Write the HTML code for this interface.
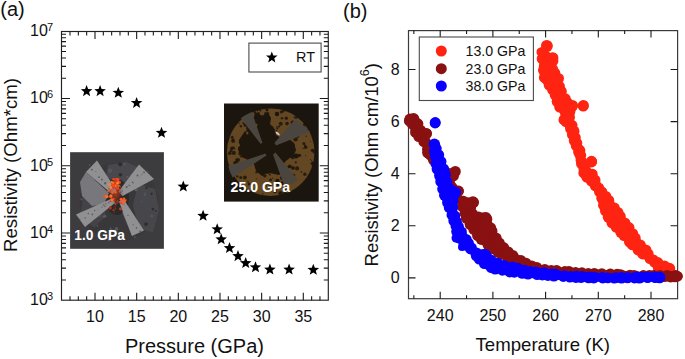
<!DOCTYPE html>
<html><head><meta charset="utf-8"><style>html,body{margin:0;padding:0;background:#fff;width:685px;height:359px;overflow:hidden}svg{display:block}</style></head>
<body><svg width="685" height="359" viewBox="0 0 685 359">
<defs><radialGradient id="rg1" cx="0.5" cy="0.5" r="0.5"><stop offset="0" stop-color="#ff5a1a"/><stop offset="0.5" stop-color="#c8321a" stop-opacity="0.85"/><stop offset="1" stop-color="#2e2a2c" stop-opacity="0"/></radialGradient><filter id="bl1" x="-20%" y="-20%" width="140%" height="140%"><feGaussianBlur stdDeviation="0.6"/></filter></defs>
<rect x="70.1" y="152.2" width="93.8" height="96.6" fill="#3c3b3e"/>
<g filter="url(#bl1)">
<circle cx="118.8" cy="202.2" r="40" fill="#38373b" stroke="#433a3d" stroke-width="1.2"/>
<polygon points="108.0,165.0 126.0,162.0 142.0,169.0 138.0,181.0 120.0,183.0 106.0,177.0" fill="#48484d" />
<polygon points="138.0,184.0 155.0,189.0 159.0,210.0 153.0,232.0 139.0,229.0 133.0,205.0" fill="#47474c" />
<polygon points="84.0,194.0 100.0,198.0 106.0,216.0 94.0,228.0 80.0,214.0" fill="#424246" />
<circle cx="93.9" cy="177.9" r="1.9" fill="#55565c"/>
<circle cx="137.8" cy="172.4" r="1.1" fill="#55565c"/>
<circle cx="136.1" cy="189.7" r="1.5" fill="#5a5a60"/>
<circle cx="103.4" cy="216.5" r="1.1" fill="#5a5a60"/>
<circle cx="99.4" cy="214.9" r="2.0" fill="#4e5058"/>
<circle cx="138.0" cy="232.3" r="1.0" fill="#4e5058"/>
<circle cx="131.4" cy="215.0" r="2.0" fill="#5a5a60"/>
<circle cx="124.5" cy="164.3" r="1.0" fill="#5a5a60"/>
<circle cx="109.4" cy="239.4" r="1.6" fill="#5a5a60"/>
<circle cx="134.8" cy="237.2" r="1.1" fill="#4e5058"/>
<circle cx="110.5" cy="228.4" r="1.0" fill="#5a5a60"/>
<circle cx="116.5" cy="228.9" r="1.9" fill="#55565c"/>
<circle cx="90.6" cy="182.8" r="0.9" fill="#2e2e31"/>
<circle cx="131.3" cy="175.0" r="1.2" fill="#4e5058"/>
<circle cx="96.1" cy="206.2" r="1.2" fill="#55565c"/>
<circle cx="144.8" cy="193.6" r="1.4" fill="#4e5058"/>
<circle cx="97.6" cy="225.9" r="0.8" fill="#55565c"/>
<circle cx="110.2" cy="170.7" r="2.1" fill="#55565c"/>
<circle cx="120.2" cy="164.3" r="2.1" fill="#2e2e31"/>
<circle cx="81.6" cy="199.3" r="1.2" fill="#4e5058"/>
<circle cx="146.0" cy="224.1" r="1.9" fill="#2e2e31"/>
<circle cx="155.9" cy="210.9" r="0.9" fill="#2e2e31"/>
<circle cx="91.4" cy="200.0" r="1.0" fill="#2e2e31"/>
<circle cx="146.5" cy="187.9" r="1.2" fill="#2e2e31"/>
<circle cx="106.4" cy="235.8" r="1.7" fill="#2e2e31"/>
<circle cx="141.5" cy="201.7" r="0.9" fill="#4e5058"/>
<circle cx="152.9" cy="209.1" r="1.3" fill="#2e2e31"/>
<circle cx="91.2" cy="210.1" r="0.9" fill="#55565c"/>
<circle cx="127.4" cy="176.8" r="1.1" fill="#5a5a60"/>
<circle cx="94.5" cy="176.2" r="0.9" fill="#4e5058"/>
<circle cx="105.0" cy="216.3" r="1.4" fill="#5a5a60"/>
<circle cx="81.5" cy="213.5" r="2.0" fill="#4e5058"/>
<circle cx="151.6" cy="193.8" r="1.2" fill="#2e2e31"/>
<circle cx="111.6" cy="229.6" r="1.0" fill="#4e5058"/>
<circle cx="132.3" cy="174.4" r="1.1" fill="#4e5058"/>
<circle cx="134.4" cy="185.1" r="1.5" fill="#2e2e31"/>
<circle cx="151.7" cy="216.0" r="1.3" fill="#55565c"/>
<circle cx="120.5" cy="174.8" r="1.8" fill="#2e2e31"/>
<circle cx="131.7" cy="180.5" r="2.2" fill="#2e2e31"/>
<circle cx="144.8" cy="195.0" r="1.1" fill="#55565c"/>
<ellipse cx="117" cy="197" rx="12" ry="18" fill="#2b2a2c"/>
<polygon points="80.0,182.0 86.0,172.0 109.0,193.0 104.0,204.0 92.0,206.0 82.0,196.0" fill="#78787b" />
<polygon points="122.0,212.0 133.0,214.0 141.0,227.0 132.0,236.0" fill="#6c6c6e" />
<polygon points="86.0,172.0 97.0,160.5 116.5,190.5 112.5,194.5" fill="#909092" />
<polygon points="139.0,164.5 154.0,179.0 122.5,196.0 118.5,191.5" fill="#909092" />
<polygon points="76.0,214.5 85.0,227.0 115.5,202.5 112.0,198.5" fill="#909092" />
<polygon points="119.0,201.5 123.5,199.0 144.0,230.5 132.0,236.0" fill="#909092" />
<circle cx="128.0" cy="215.4" r="0.7" fill="#5a5a5c"/>
<circle cx="92.4" cy="214.3" r="0.9" fill="#5a5a5c"/>
<circle cx="110.5" cy="201.3" r="0.7" fill="#5a5a5c"/>
<circle cx="111.8" cy="200.4" r="0.5" fill="#5a5a5c"/>
<circle cx="111.1" cy="200.9" r="0.8" fill="#5a5a5c"/>
<circle cx="136.5" cy="227.9" r="0.8" fill="#5a5a5c"/>
<circle cx="133.1" cy="224.6" r="0.6" fill="#5a5a5c"/>
<circle cx="95.8" cy="171.5" r="0.5" fill="#5a5a5c"/>
<circle cx="128.5" cy="185.1" r="0.5" fill="#5a5a5c"/>
<circle cx="109.1" cy="188.6" r="0.7" fill="#5a5a5c"/>
<circle cx="99.3" cy="177.0" r="0.4" fill="#5a5a5c"/>
<circle cx="141.9" cy="174.6" r="0.6" fill="#5a5a5c"/>
<circle cx="108.8" cy="202.7" r="0.7" fill="#5a5a5c"/>
<circle cx="102.0" cy="179.2" r="0.7" fill="#5a5a5c"/>
<circle cx="111.9" cy="200.4" r="0.9" fill="#5a5a5c"/>
<circle cx="94.7" cy="210.5" r="0.7" fill="#5a5a5c"/>
<circle cx="120.4" cy="192.3" r="0.9" fill="#5a5a5c"/>
<circle cx="98.5" cy="177.1" r="0.7" fill="#5a5a5c"/>
<circle cx="102.0" cy="207.1" r="0.7" fill="#5a5a5c"/>
<circle cx="133.1" cy="182.9" r="0.6" fill="#5a5a5c"/>
<circle cx="129.8" cy="185.6" r="0.7" fill="#5a5a5c"/>
<circle cx="140.3" cy="231.4" r="1.0" fill="#5a5a5c"/>
<circle cx="132.4" cy="182.3" r="0.7" fill="#5a5a5c"/>
<circle cx="79.7" cy="219.3" r="0.7" fill="#5a5a5c"/>
<circle cx="88.3" cy="213.5" r="0.7" fill="#5a5a5c"/>
<circle cx="126.7" cy="187.1" r="1.0" fill="#5a5a5c"/>
<circle cx="89.6" cy="165.1" r="0.8" fill="#5a5a5c"/>
<circle cx="103.6" cy="205.0" r="0.8" fill="#5a5a5c"/>
<circle cx="144.1" cy="172.3" r="0.9" fill="#5a5a5c"/>
<circle cx="147.8" cy="171.7" r="0.7" fill="#5a5a5c"/>
<circle cx="123.7" cy="204.5" r="0.8" fill="#5a5a5c"/>
<circle cx="122.2" cy="191.0" r="0.6" fill="#5a5a5c"/>
<circle cx="105.3" cy="183.0" r="0.9" fill="#5a5a5c"/>
<circle cx="85.1" cy="218.0" r="0.7" fill="#5a5a5c"/>
<circle cx="97.9" cy="209.5" r="0.4" fill="#5a5a5c"/>
<circle cx="137.5" cy="175.5" r="1.0" fill="#5a5a5c"/>
<circle cx="104.9" cy="206.2" r="0.8" fill="#5a5a5c"/>
<circle cx="92.0" cy="169.7" r="0.9" fill="#5a5a5c"/>
<circle cx="105.1" cy="183.5" r="1.0" fill="#5a5a5c"/>
<circle cx="140.0" cy="177.2" r="0.4" fill="#5a5a5c"/>
<circle cx="143.1" cy="172.0" r="0.4" fill="#5a5a5c"/>
<circle cx="101.9" cy="180.0" r="0.8" fill="#5a5a5c"/>
<circle cx="99.5" cy="177.1" r="0.7" fill="#5a5a5c"/>
<circle cx="110.2" cy="201.2" r="0.7" fill="#5a5a5c"/>
<circle cx="110.3" cy="201.5" r="0.6" fill="#5a5a5c"/>
<ellipse cx="115.5" cy="192" rx="8" ry="13" fill="url(#rg1)" opacity="0.55"/>
<circle cx="111.9" cy="200.0" r="1.7" fill="#ff7028"/>
<circle cx="117.5" cy="202.7" r="0.8" fill="#c03a1c"/>
<circle cx="123.1" cy="199.9" r="0.7" fill="#e84a1c"/>
<circle cx="113.0" cy="182.6" r="1.1" fill="#d8381a"/>
<circle cx="115.2" cy="183.2" r="0.7" fill="#d8381a"/>
<circle cx="119.6" cy="182.4" r="1.4" fill="#f04a1c"/>
<circle cx="118.2" cy="181.8" r="0.8" fill="#f04a1c"/>
<circle cx="110.7" cy="196.7" r="1.6" fill="#e0401a"/>
<circle cx="124.0" cy="198.8" r="1.3" fill="#ff5a20"/>
<circle cx="108.8" cy="209.2" r="0.6" fill="#8a2418"/>
<circle cx="115.5" cy="208.5" r="0.7" fill="#a8301a"/>
<circle cx="115.3" cy="184.9" r="1.3" fill="#d8381a"/>
<circle cx="112.6" cy="185.3" r="1.0" fill="#d8381a"/>
<circle cx="113.6" cy="199.1" r="1.0" fill="#f05a20"/>
<circle cx="116.3" cy="182.6" r="0.7" fill="#ff8030"/>
<circle cx="115.0" cy="200.0" r="1.1" fill="#a8301a"/>
<circle cx="117.7" cy="182.5" r="1.4" fill="#ff6a24"/>
<circle cx="104.9" cy="196.3" r="1.5" fill="#f05a20"/>
<circle cx="112.7" cy="184.7" r="0.6" fill="#f04a1c"/>
<circle cx="121.2" cy="199.3" r="1.6" fill="#ff5a20"/>
<circle cx="123.0" cy="199.5" r="0.9" fill="#ff5a20"/>
<circle cx="123.3" cy="199.4" r="0.8" fill="#e84a1c"/>
<circle cx="119.2" cy="185.3" r="0.6" fill="#ff8030"/>
<circle cx="115.6" cy="180.5" r="0.6" fill="#ff6a24"/>
<circle cx="117.4" cy="201.6" r="1.4" fill="#a8301a"/>
<circle cx="115.5" cy="182.5" r="0.7" fill="#d8381a"/>
<circle cx="118.1" cy="185.1" r="0.7" fill="#ff6a24"/>
<circle cx="110.3" cy="207.9" r="1.6" fill="#a8301a"/>
<circle cx="113.5" cy="179.3" r="1.2" fill="#f04a1c"/>
<circle cx="114.4" cy="185.5" r="1.3" fill="#f04a1c"/>
<circle cx="115.1" cy="206.7" r="1.0" fill="#8a2418"/>
<circle cx="115.4" cy="179.8" r="1.4" fill="#f04a1c"/>
<circle cx="113.6" cy="210.1" r="1.2" fill="#a8301a"/>
<circle cx="109.5" cy="184.6" r="1.5" fill="#ff8030"/>
<circle cx="115.9" cy="185.1" r="1.4" fill="#f04a1c"/>
<circle cx="126.1" cy="200.0" r="0.7" fill="#ff5a20"/>
<circle cx="124.6" cy="200.9" r="1.6" fill="#ff5a20"/>
<circle cx="120.4" cy="209.0" r="1.4" fill="#c03a1c"/>
<circle cx="115.5" cy="192.3" r="1.2" fill="#f05a20"/>
<circle cx="116.9" cy="179.3" r="1.4" fill="#ff6a24"/>
<circle cx="123.1" cy="203.8" r="1.2" fill="#ff5a20"/>
<circle cx="114.4" cy="185.8" r="1.3" fill="#d8381a"/>
<circle cx="120.0" cy="186.3" r="0.6" fill="#ff6a24"/>
<circle cx="117.1" cy="186.4" r="1.6" fill="#ff8030"/>
<circle cx="112.4" cy="198.2" r="0.8" fill="#e0401a"/>
<circle cx="117.3" cy="188.2" r="1.4" fill="#f04a1c"/>
<circle cx="113.1" cy="183.6" r="1.1" fill="#f04a1c"/>
<circle cx="115.5" cy="204.1" r="1.1" fill="#c03a1c"/>
<circle cx="113.4" cy="182.8" r="1.4" fill="#ff6a24"/>
<circle cx="105.9" cy="203.8" r="0.6" fill="#8a2418"/>
<circle cx="117.9" cy="179.7" r="1.7" fill="#f04a1c"/>
<circle cx="111.8" cy="182.1" r="1.0" fill="#ff8030"/>
<circle cx="114.6" cy="186.3" r="1.4" fill="#ff8030"/>
<circle cx="121.3" cy="202.9" r="1.3" fill="#e84a1c"/>
<circle cx="118.8" cy="189.2" r="1.0" fill="#d8381a"/>
<circle cx="110.7" cy="187.5" r="1.6" fill="#ff8030"/>
<circle cx="115.8" cy="181.0" r="1.5" fill="#d8381a"/>
<circle cx="112.9" cy="192.2" r="0.7" fill="#f05a20"/>
<circle cx="108.0" cy="191.2" r="0.9" fill="#f05a20"/>
<circle cx="113.8" cy="187.2" r="1.2" fill="#d8381a"/>
<circle cx="107.0" cy="196.6" r="1.6" fill="#ff7028"/>
<circle cx="110.2" cy="191.7" r="1.0" fill="#e0401a"/>
<circle cx="110.4" cy="191.7" r="0.9" fill="#e0401a"/>
<circle cx="115.7" cy="179.2" r="0.9" fill="#d8381a"/>
<circle cx="114.1" cy="212.3" r="0.6" fill="#a8301a"/>
<circle cx="117.6" cy="183.3" r="1.4" fill="#ff8030"/>
<circle cx="114.7" cy="200.5" r="1.1" fill="#a8301a"/>
<circle cx="117.1" cy="186.2" r="1.0" fill="#d8381a"/>
<circle cx="113.5" cy="185.4" r="1.6" fill="#f04a1c"/>
<circle cx="110.9" cy="195.9" r="1.6" fill="#ff7028"/>
</g>
<text x="74.3" y="240.4" font-family="Liberation Sans" font-size="15" font-weight="bold" fill="#fff" textLength="50.5" lengthAdjust="spacingAndGlyphs">1.0 GPa</text>
<rect x="224" y="103.5" width="94.7" height="98.1" fill="#1b1510"/>
<g filter="url(#bl1)">
<circle cx="270.7" cy="152.3" r="43.8" fill="#634722"/>
<polygon points="255.0,113.0 262.0,111.5 268.0,113.0 271.0,118.0 270.0,124.0 274.0,128.0 276.0,135.0 281.0,138.0 289.0,139.0 294.0,143.0 296.0,150.0 293.0,157.0 287.0,160.0 284.0,163.0 285.0,170.0 279.0,175.0 270.0,173.0 262.0,176.0 256.0,171.0 254.0,164.0 248.0,160.0 242.0,157.0 238.0,150.0 239.0,140.0 243.0,134.0 247.0,130.0 252.0,127.0 253.0,120.0" fill="#1c140d" />
<circle cx="262" cy="113" r="2.5" fill="#634722"/>
<circle cx="284" cy="137" r="2.5" fill="#634722"/>
<circle cx="291" cy="160" r="2.5" fill="#634722"/>
<circle cx="250" cy="163" r="2.2" fill="#634722"/>
<circle cx="238" cy="145" r="2" fill="#634722"/>
<circle cx="266" cy="176" r="2.5" fill="#634722"/>
<circle cx="274" cy="122" r="2" fill="#634722"/>
<circle cx="256" cy="125" r="1.6" fill="#634722"/>
<circle cx="247" cy="133" r="1.5" fill="#634722"/>
<circle cx="236.4" cy="162.9" r="2.1" fill="#1c140d" opacity="0.8"/>
<circle cx="236.7" cy="159.8" r="1.5" fill="#1c140d" opacity="0.8"/>
<circle cx="284.6" cy="184.3" r="1.6" fill="#1c140d" opacity="0.8"/>
<circle cx="277.3" cy="128.4" r="1.0" fill="#1c140d" opacity="0.8"/>
<circle cx="304.8" cy="174.2" r="1.7" fill="#1c140d" opacity="0.8"/>
<circle cx="312.7" cy="163.6" r="2.1" fill="#1c140d" opacity="0.8"/>
<circle cx="249.7" cy="121.9" r="0.8" fill="#1c140d" opacity="0.8"/>
<circle cx="305.8" cy="155.6" r="0.6" fill="#1c140d" opacity="0.8"/>
<circle cx="281.3" cy="179.1" r="0.6" fill="#1c140d" opacity="0.8"/>
<circle cx="238.2" cy="159.8" r="1.9" fill="#1c140d" opacity="0.8"/>
<circle cx="233.5" cy="147.8" r="1.3" fill="#1c140d" opacity="0.8"/>
<circle cx="253.1" cy="123.5" r="1.0" fill="#1c140d" opacity="0.8"/>
<circle cx="314.4" cy="151.7" r="1.9" fill="#1c140d" opacity="0.8"/>
<circle cx="262.7" cy="122.8" r="0.9" fill="#1c140d" opacity="0.8"/>
<circle cx="264.8" cy="175.7" r="1.8" fill="#1c140d" opacity="0.8"/>
<circle cx="237.3" cy="176.4" r="1.2" fill="#1c140d" opacity="0.8"/>
<circle cx="310.5" cy="141.6" r="0.5" fill="#1c140d" opacity="0.8"/>
<circle cx="281.3" cy="193.3" r="1.3" fill="#1c140d" opacity="0.8"/>
<circle cx="302.9" cy="148.3" r="0.6" fill="#1c140d" opacity="0.8"/>
<circle cx="243.2" cy="123.2" r="1.0" fill="#1c140d" opacity="0.8"/>
<circle cx="297.1" cy="168.4" r="2.1" fill="#1c140d" opacity="0.8"/>
<circle cx="272.0" cy="126.8" r="0.9" fill="#1c140d" opacity="0.8"/>
<circle cx="289.9" cy="166.4" r="1.9" fill="#1c140d" opacity="0.8"/>
<circle cx="286.4" cy="184.5" r="1.3" fill="#1c140d" opacity="0.8"/>
<circle cx="285.0" cy="188.8" r="0.7" fill="#1c140d" opacity="0.8"/>
<circle cx="254.9" cy="132.3" r="1.2" fill="#1c140d" opacity="0.8"/>
<circle cx="277.5" cy="181.0" r="2.2" fill="#1c140d" opacity="0.8"/>
<circle cx="280.7" cy="123.7" r="2.0" fill="#1c140d" opacity="0.8"/>
<circle cx="278.6" cy="183.7" r="2.0" fill="#1c140d" opacity="0.8"/>
<circle cx="255.0" cy="132.9" r="2.2" fill="#1c140d" opacity="0.8"/>
<circle cx="277.4" cy="180.7" r="1.8" fill="#1c140d" opacity="0.8"/>
<circle cx="256.4" cy="178.8" r="0.6" fill="#1c140d" opacity="0.8"/>
<circle cx="301.3" cy="171.8" r="0.9" fill="#1c140d" opacity="0.8"/>
<circle cx="245.1" cy="133.4" r="1.3" fill="#1c140d" opacity="0.8"/>
<circle cx="303.9" cy="143.6" r="1.5" fill="#1c140d" opacity="0.8"/>
<circle cx="288.9" cy="132.0" r="0.8" fill="#1c140d" opacity="0.8"/>
<circle cx="304.8" cy="130.2" r="0.9" fill="#1c140d" opacity="0.8"/>
<circle cx="285.2" cy="188.8" r="2.1" fill="#1c140d" opacity="0.8"/>
<circle cx="284.9" cy="192.9" r="2.0" fill="#1c140d" opacity="0.8"/>
<circle cx="244.5" cy="132.3" r="0.7" fill="#1c140d" opacity="0.8"/>
<circle cx="312.6" cy="162.7" r="0.9" fill="#1c140d" opacity="0.8"/>
<circle cx="262.5" cy="124.3" r="1.9" fill="#1c140d" opacity="0.8"/>
<circle cx="246.0" cy="135.2" r="0.8" fill="#1c140d" opacity="0.8"/>
<circle cx="266.2" cy="128.7" r="0.9" fill="#1c140d" opacity="0.8"/>
<circle cx="232.2" cy="137.2" r="1.5" fill="#1c140d" opacity="0.8"/>
<circle cx="262.7" cy="194.0" r="0.8" fill="#1c140d" opacity="0.8"/>
<circle cx="300.0" cy="155.4" r="1.3" fill="#1c140d" opacity="0.8"/>
<circle cx="295.8" cy="162.3" r="1.1" fill="#1c140d" opacity="0.8"/>
<circle cx="247.5" cy="141.0" r="1.1" fill="#1c140d" opacity="0.8"/>
<circle cx="304.4" cy="124.8" r="1.6" fill="#1c140d" opacity="0.8"/>
<circle cx="257.6" cy="118.4" r="0.7" fill="#1c140d" opacity="0.8"/>
<circle cx="292.6" cy="157.2" r="2.0" fill="#1c140d" opacity="0.8"/>
<circle cx="257.6" cy="111.1" r="0.5" fill="#1c140d" opacity="0.8"/>
<circle cx="248.2" cy="126.4" r="1.7" fill="#1c140d" opacity="0.8"/>
<circle cx="252.3" cy="192.0" r="0.6" fill="#1c140d" opacity="0.8"/>
<circle cx="233.1" cy="141.1" r="2.0" fill="#1c140d" opacity="0.8"/>
<circle cx="267.6" cy="113.8" r="1.8" fill="#1c140d" opacity="0.8"/>
<circle cx="297.7" cy="136.3" r="1.7" fill="#1c140d" opacity="0.8"/>
<circle cx="304.5" cy="128.0" r="1.2" fill="#1c140d" opacity="0.8"/>
<circle cx="281.2" cy="112.1" r="1.5" fill="#1c140d" opacity="0.8"/>
<circle cx="248.0" cy="129.6" r="1.5" fill="#1c140d" opacity="0.8"/>
<circle cx="251.8" cy="136.9" r="1.6" fill="#1c140d" opacity="0.8"/>
<circle cx="312.4" cy="150.5" r="1.7" fill="#1c140d" opacity="0.8"/>
<circle cx="240.7" cy="177.6" r="1.5" fill="#1c140d" opacity="0.8"/>
<circle cx="232.5" cy="167.3" r="0.6" fill="#1c140d" opacity="0.8"/>
<circle cx="270.7" cy="129.4" r="1.5" fill="#1c140d" opacity="0.8"/>
<circle cx="242.4" cy="155.7" r="1.7" fill="#1c140d" opacity="0.8"/>
<circle cx="233.8" cy="152.9" r="2.1" fill="#1c140d" opacity="0.8"/>
<circle cx="269.9" cy="174.6" r="1.0" fill="#1c140d" opacity="0.8"/>
<circle cx="258.6" cy="127.3" r="0.8" fill="#1c140d" opacity="0.8"/>
<circle cx="302.1" cy="131.2" r="1.3" fill="#1c140d" opacity="0.8"/>
<circle cx="294.7" cy="132.9" r="1.6" fill="#1c140d" opacity="0.8"/>
<circle cx="281.2" cy="183.7" r="1.9" fill="#1c140d" opacity="0.8"/>
<circle cx="306.6" cy="130.9" r="1.2" fill="#1c140d" opacity="0.8"/>
<circle cx="244.2" cy="137.0" r="0.7" fill="#1c140d" opacity="0.8"/>
<circle cx="229.7" cy="153.2" r="1.9" fill="#1c140d" opacity="0.8"/>
<circle cx="260.3" cy="110.6" r="1.0" fill="#1c140d" opacity="0.8"/>
<circle cx="287.0" cy="181.6" r="1.0" fill="#1c140d" opacity="0.8"/>
<circle cx="278.0" cy="184.3" r="1.6" fill="#1c140d" opacity="0.8"/>
<circle cx="240.2" cy="153.5" r="1.9" fill="#1c140d" opacity="0.8"/>
<circle cx="304.1" cy="148.5" r="0.6" fill="#1c140d" opacity="0.8"/>
<circle cx="311.5" cy="160.5" r="0.6" fill="#1c140d" opacity="0.8"/>
<circle cx="261.4" cy="117.4" r="1.0" fill="#1c140d" opacity="0.8"/>
<circle cx="276.5" cy="130.5" r="0.7" fill="#1c140d" opacity="0.8"/>
<circle cx="248.9" cy="158.7" r="1.9" fill="#1c140d" opacity="0.8"/>
<circle cx="272.8" cy="178.3" r="0.6" fill="#1c140d" opacity="0.8"/>
<circle cx="247.6" cy="128.0" r="1.6" fill="#1c140d" opacity="0.8"/>
<circle cx="247.9" cy="118.8" r="2.1" fill="#1c140d" opacity="0.8"/>
<circle cx="259.6" cy="126.9" r="1.3" fill="#1c140d" opacity="0.8"/>
<circle cx="280.3" cy="172.4" r="1.3" fill="#1c140d" opacity="0.8"/>
<circle cx="264.6" cy="125.8" r="1.0" fill="#1c140d" opacity="0.8"/>
<circle cx="248.9" cy="184.0" r="1.4" fill="#1c140d" opacity="0.8"/>
<circle cx="240.9" cy="126.2" r="1.2" fill="#1c140d" opacity="0.8"/>
<circle cx="281.7" cy="111.5" r="0.6" fill="#1c140d" opacity="0.8"/>
<circle cx="306.2" cy="136.3" r="0.7" fill="#1c140d" opacity="0.8"/>
<circle cx="235.1" cy="163.0" r="2.0" fill="#1c140d" opacity="0.8"/>
<circle cx="244.9" cy="177.5" r="2.0" fill="#1c140d" opacity="0.8"/>
<circle cx="283.1" cy="111.3" r="1.3" fill="#1c140d" opacity="0.8"/>
<circle cx="254.5" cy="129.7" r="1.7" fill="#1c140d" opacity="0.8"/>
<circle cx="286.3" cy="118.2" r="1.7" fill="#1c140d" opacity="0.8"/>
<circle cx="280.3" cy="193.3" r="2.2" fill="#1c140d" opacity="0.8"/>
<circle cx="305.7" cy="147.3" r="1.8" fill="#1c140d" opacity="0.8"/>
<circle cx="252.6" cy="190.5" r="2.0" fill="#1c140d" opacity="0.8"/>
<circle cx="256.5" cy="172.2" r="1.2" fill="#1c140d" opacity="0.8"/>
<circle cx="232.9" cy="139.9" r="1.3" fill="#1c140d" opacity="0.8"/>
<circle cx="310.6" cy="159.5" r="0.6" fill="#1c140d" opacity="0.8"/>
<circle cx="279.0" cy="126.6" r="1.1" fill="#1c140d" opacity="0.8"/>
<circle cx="276.9" cy="126.9" r="0.8" fill="#1c140d" opacity="0.8"/>
<circle cx="231.9" cy="148.3" r="1.9" fill="#1c140d" opacity="0.8"/>
<circle cx="254.8" cy="112.5" r="1.3" fill="#1c140d" opacity="0.8"/>
<circle cx="294.0" cy="144.6" r="0.9" fill="#1c140d" opacity="0.8"/>
<circle cx="241.2" cy="147.3" r="1.7" fill="#1c140d" opacity="0.8"/>
<circle cx="248.1" cy="125.4" r="1.9" fill="#1c140d" opacity="0.8"/>
<circle cx="242.4" cy="141.1" r="1.1" fill="#1c140d" opacity="0.8"/>
<circle cx="294.4" cy="117.5" r="0.9" fill="#1c140d" opacity="0.8"/>
<circle cx="296.3" cy="117.4" r="1.4" fill="#1c140d" opacity="0.8"/>
<circle cx="245.8" cy="140.0" r="1.4" fill="#1c140d" opacity="0.8"/>
<circle cx="234.0" cy="151.6" r="0.5" fill="#1c140d" opacity="0.8"/>
<circle cx="305.0" cy="145.6" r="1.2" fill="#1c140d" opacity="0.8"/>
<circle cx="282.0" cy="118.2" r="1.3" fill="#1c140d" opacity="0.8"/>
<circle cx="262.0" cy="130.0" r="1.4" fill="#1c140d" opacity="0.8"/>
<circle cx="233.8" cy="174.5" r="2.1" fill="#1c140d" opacity="0.8"/>
<circle cx="266.6" cy="186.1" r="0.7" fill="#1c140d" opacity="0.8"/>
<circle cx="233.5" cy="168.8" r="2.0" fill="#1c140d" opacity="0.8"/>
<circle cx="240.4" cy="156.8" r="0.8" fill="#1c140d" opacity="0.8"/>
<circle cx="239.3" cy="123.6" r="0.7" fill="#1c140d" opacity="0.8"/>
<circle cx="274.8" cy="130.0" r="0.8" fill="#1c140d" opacity="0.8"/>
<circle cx="276.2" cy="190.2" r="1.0" fill="#1c140d" opacity="0.8"/>
<circle cx="247.9" cy="181.5" r="0.7" fill="#1c140d" opacity="0.8"/>
<circle cx="267.6" cy="126.9" r="1.4" fill="#1c140d" opacity="0.8"/>
<circle cx="270.6" cy="179.9" r="1.4" fill="#1c140d" opacity="0.8"/>
<circle cx="241.2" cy="164.7" r="1.2" fill="#1c140d" opacity="0.8"/>
<circle cx="244.5" cy="147.4" r="0.8" fill="#1c140d" opacity="0.8"/>
<circle cx="245.3" cy="124.8" r="1.4" fill="#1c140d" opacity="0.8"/>
<circle cx="292.6" cy="122.6" r="2.0" fill="#1c140d" opacity="0.8"/>
<circle cx="275.0" cy="191.4" r="1.9" fill="#1c140d" opacity="0.8"/>
<circle cx="295.7" cy="134.8" r="1.0" fill="#1c140d" opacity="0.8"/>
<circle cx="295.6" cy="139.2" r="2.2" fill="#1c140d" opacity="0.8"/>
<circle cx="290.4" cy="135.5" r="0.9" fill="#1c140d" opacity="0.8"/>
<circle cx="266.4" cy="123.4" r="0.7" fill="#1c140d" opacity="0.8"/>
<circle cx="287.0" cy="123.6" r="1.8" fill="#1c140d" opacity="0.8"/>
<circle cx="293.6" cy="175.5" r="1.7" fill="#1c140d" opacity="0.8"/>
<circle cx="298.3" cy="155.4" r="1.7" fill="#1c140d" opacity="0.8"/>
<circle cx="307.4" cy="129.4" r="0.7" fill="#1c140d" opacity="0.8"/>
<circle cx="231.1" cy="150.9" r="1.4" fill="#1c140d" opacity="0.8"/>
<circle cx="259.9" cy="127.1" r="0.6" fill="#1c140d" opacity="0.8"/>
<circle cx="288.8" cy="166.6" r="1.4" fill="#1c140d" opacity="0.8"/>
<circle cx="234.8" cy="148.9" r="0.7" fill="#1c140d" opacity="0.8"/>
<circle cx="281.8" cy="177.8" r="1.9" fill="#1c140d" opacity="0.8"/>
<circle cx="313.2" cy="149.7" r="0.7" fill="#1c140d" opacity="0.8"/>
<circle cx="277" cy="114" r="2.2" fill="#1c140d"/>
<circle cx="267" cy="110" r="1.4" fill="#1c140d"/>
<circle cx="245" cy="125" r="1.5" fill="#1c140d"/>
<circle cx="298" cy="116" r="1.5" fill="#1c140d"/>
<circle cx="296" cy="156" r="2.5" fill="#1c140d"/>
<circle cx="293" cy="168" r="1.8" fill="#1c140d"/>
<circle cx="283" cy="183" r="2" fill="#1c140d"/>
<circle cx="270" cy="186" r="1.6" fill="#1c140d"/>
<polygon points="240.7,118.3 246.0,114.8 251.9,112.1 262.5,143.0 260.5,143.8" fill="#4b453f" />
<polygon points="295.7,118.8 303.0,125.0 310.1,131.9 276.0,145.5 274.5,142.8" fill="#4b453f" />
<polygon points="228.3,166.0 230.0,172.0 232.7,177.5 266.5,155.5 265.5,153.5" fill="#4b453f" />
<polygon points="273.0,154.5 275.5,152.5 298.0,180.0 292.0,184.0 284.0,185.0" fill="#4b453f" />
<ellipse cx="277.7" cy="133.6" rx="2.5" ry="1" transform="rotate(40 277.7 133.6)" fill="#d0d0d0"/>
</g>
<text x="230.6" y="192.4" font-family="Liberation Sans" font-size="15" font-weight="bold" fill="#fff" textLength="59.5" lengthAdjust="spacingAndGlyphs">25.0 GPa</text>
<rect x="61.5" y="31.5" width="266.8" height="268.7" fill="none" stroke="#222" stroke-width="1.15"/>
<path d="M70.00 300.2v-4M70.00 31.5v4M78.34 300.2v-4M78.34 31.5v4M86.67 300.2v-4M86.67 31.5v4M95.00 300.2v-7.5M95.00 31.5v7.5M103.33 300.2v-4M103.33 31.5v4M111.66 300.2v-4M111.66 31.5v4M120.00 300.2v-4M120.00 31.5v4M128.33 300.2v-4M128.33 31.5v4M136.66 300.2v-7.5M136.66 31.5v7.5M144.99 300.2v-4M144.99 31.5v4M153.32 300.2v-4M153.32 31.5v4M161.66 300.2v-4M161.66 31.5v4M169.99 300.2v-4M169.99 31.5v4M178.32 300.2v-7.5M178.32 31.5v7.5M186.65 300.2v-4M186.65 31.5v4M194.98 300.2v-4M194.98 31.5v4M203.32 300.2v-4M203.32 31.5v4M211.65 300.2v-4M211.65 31.5v4M219.98 300.2v-7.5M219.98 31.5v7.5M228.31 300.2v-4M228.31 31.5v4M236.64 300.2v-4M236.64 31.5v4M244.98 300.2v-4M244.98 31.5v4M253.31 300.2v-4M253.31 31.5v4M261.64 300.2v-7.5M261.64 31.5v7.5M269.97 300.2v-4M269.97 31.5v4M278.30 300.2v-4M278.30 31.5v4M286.64 300.2v-4M286.64 31.5v4M294.97 300.2v-4M294.97 31.5v4M303.30 300.2v-7.5M303.30 31.5v7.5M311.63 300.2v-4M311.63 31.5v4M319.96 300.2v-4M319.96 31.5v4M61.5 279.96h4.5M328.3 279.96h-4.5M61.5 268.11h4.5M328.3 268.11h-4.5M61.5 259.71h4.5M328.3 259.71h-4.5M61.5 253.19h4.5M328.3 253.19h-4.5M61.5 247.87h4.5M328.3 247.87h-4.5M61.5 243.37h4.5M328.3 243.37h-4.5M61.5 239.47h4.5M328.3 239.47h-4.5M61.5 236.03h4.5M328.3 236.03h-4.5M61.5 232.95h8.5M328.3 232.95h-8.5M61.5 212.71h4.5M328.3 212.71h-4.5M61.5 200.86h4.5M328.3 200.86h-4.5M61.5 192.46h4.5M328.3 192.46h-4.5M61.5 185.94h4.5M328.3 185.94h-4.5M61.5 180.62h4.5M328.3 180.62h-4.5M61.5 176.12h4.5M328.3 176.12h-4.5M61.5 172.22h4.5M328.3 172.22h-4.5M61.5 168.78h4.5M328.3 168.78h-4.5M61.5 165.70h8.5M328.3 165.70h-8.5M61.5 145.46h4.5M328.3 145.46h-4.5M61.5 133.61h4.5M328.3 133.61h-4.5M61.5 125.21h4.5M328.3 125.21h-4.5M61.5 118.69h4.5M328.3 118.69h-4.5M61.5 113.37h4.5M328.3 113.37h-4.5M61.5 108.87h4.5M328.3 108.87h-4.5M61.5 104.97h4.5M328.3 104.97h-4.5M61.5 101.53h4.5M328.3 101.53h-4.5M61.5 98.45h8.5M328.3 98.45h-8.5M61.5 78.21h4.5M328.3 78.21h-4.5M61.5 66.36h4.5M328.3 66.36h-4.5M61.5 57.96h4.5M328.3 57.96h-4.5M61.5 51.44h4.5M328.3 51.44h-4.5M61.5 46.12h4.5M328.3 46.12h-4.5M61.5 41.62h4.5M328.3 41.62h-4.5M61.5 37.72h4.5M328.3 37.72h-4.5M61.5 34.28h4.5M328.3 34.28h-4.5" stroke="#1a1a1a" stroke-width="1.1" fill="none"/>
<text x="95.00" y="322.4" font-family="Liberation Sans" font-size="16" text-anchor="middle" fill="#111">10</text>
<text x="136.66" y="322.4" font-family="Liberation Sans" font-size="16" text-anchor="middle" fill="#111">15</text>
<text x="178.32" y="322.4" font-family="Liberation Sans" font-size="16" text-anchor="middle" fill="#111">20</text>
<text x="219.98" y="322.4" font-family="Liberation Sans" font-size="16" text-anchor="middle" fill="#111">25</text>
<text x="261.64" y="322.4" font-family="Liberation Sans" font-size="16" text-anchor="middle" fill="#111">30</text>
<text x="303.30" y="322.4" font-family="Liberation Sans" font-size="16" text-anchor="middle" fill="#111">35</text>
<text x="30" y="305.20" font-family="Liberation Sans" font-size="16" fill="#111">10</text>
<text x="47" y="300.20" font-family="Liberation Sans" font-size="11" fill="#111">3</text>
<text x="30" y="237.95" font-family="Liberation Sans" font-size="16" fill="#111">10</text>
<text x="47" y="232.95" font-family="Liberation Sans" font-size="11" fill="#111">4</text>
<text x="30" y="170.70" font-family="Liberation Sans" font-size="16" fill="#111">10</text>
<text x="47" y="165.70" font-family="Liberation Sans" font-size="11" fill="#111">5</text>
<text x="30" y="103.45" font-family="Liberation Sans" font-size="16" fill="#111">10</text>
<text x="47" y="98.45" font-family="Liberation Sans" font-size="11" fill="#111">6</text>
<text x="30" y="36.20" font-family="Liberation Sans" font-size="16" fill="#111">10</text>
<text x="47" y="31.20" font-family="Liberation Sans" font-size="11" fill="#111">7</text>
<text x="0.3" y="16" font-family="Liberation Sans" font-size="20" fill="#111">(a)</text>
<text x="125" y="352.8" font-family="Liberation Sans" font-size="20" fill="#111">Pressure (GPa)</text>
<text transform="translate(16.7,252) rotate(-90)" x="0" y="0" font-family="Liberation Sans" font-size="18.7" fill="#111" textLength="174" lengthAdjust="spacingAndGlyphs">Resistivity (Ohm*cm)</text>
<rect x="248.9" y="43.1" width="72.2" height="28.9" fill="#fff" stroke="#4a4a4a" stroke-width="1.1"/>
<polygon points="271.80,51.40 273.33,55.40 277.60,55.61 274.27,58.30 275.39,62.44 271.80,60.10 268.21,62.44 269.33,58.30 266.00,55.61 270.27,55.40" fill="#000"/>
<text x="296" y="62" font-family="Liberation Sans" font-size="14.4" fill="#111">RT</text>
<polygon points="86.60,85.10 88.13,89.10 92.40,89.31 89.07,92.00 90.19,96.14 86.60,93.80 83.01,96.14 84.13,92.00 80.80,89.31 85.07,89.10" fill="#000"/>
<polygon points="100.10,85.10 101.63,89.10 105.90,89.31 102.57,92.00 103.69,96.14 100.10,93.80 96.51,96.14 97.63,92.00 94.30,89.31 98.57,89.10" fill="#000"/>
<polygon points="118.30,86.70 119.83,90.70 124.10,90.91 120.77,93.60 121.89,97.74 118.30,95.40 114.71,97.74 115.83,93.60 112.50,90.91 116.77,90.70" fill="#000"/>
<polygon points="136.60,96.90 138.13,100.90 142.40,101.11 139.07,103.80 140.19,107.94 136.60,105.60 133.01,107.94 134.13,103.80 130.80,101.11 135.07,100.90" fill="#000"/>
<polygon points="161.50,126.80 163.03,130.80 167.30,131.01 163.97,133.70 165.09,137.84 161.50,135.50 157.91,137.84 159.03,133.70 155.70,131.01 159.97,130.80" fill="#000"/>
<polygon points="183.30,180.50 184.83,184.50 189.10,184.71 185.77,187.40 186.89,191.54 183.30,189.20 179.71,191.54 180.83,187.40 177.50,184.71 181.77,184.50" fill="#000"/>
<polygon points="203.10,209.80 204.63,213.80 208.90,214.01 205.57,216.70 206.69,220.84 203.10,218.50 199.51,220.84 200.63,216.70 197.30,214.01 201.57,213.80" fill="#000"/>
<polygon points="217.20,223.20 218.73,227.20 223.00,227.41 219.67,230.10 220.79,234.24 217.20,231.90 213.61,234.24 214.73,230.10 211.40,227.41 215.67,227.20" fill="#000"/>
<polygon points="221.20,233.30 222.73,237.30 227.00,237.51 223.67,240.20 224.79,244.34 221.20,242.00 217.61,244.34 218.73,240.20 215.40,237.51 219.67,237.30" fill="#000"/>
<polygon points="229.50,242.00 231.03,246.00 235.30,246.21 231.97,248.90 233.09,253.04 229.50,250.70 225.91,253.04 227.03,248.90 223.70,246.21 227.97,246.00" fill="#000"/>
<polygon points="238.00,250.10 239.53,254.10 243.80,254.31 240.47,257.00 241.59,261.14 238.00,258.80 234.41,261.14 235.53,257.00 232.20,254.31 236.47,254.10" fill="#000"/>
<polygon points="245.70,257.00 247.23,261.00 251.50,261.21 248.17,263.90 249.29,268.04 245.70,265.70 242.11,268.04 243.23,263.90 239.90,261.21 244.17,261.00" fill="#000"/>
<polygon points="255.50,261.20 257.03,265.20 261.30,265.41 257.97,268.10 259.09,272.24 255.50,269.90 251.91,272.24 253.03,268.10 249.70,265.41 253.97,265.20" fill="#000"/>
<polygon points="269.90,263.50 271.43,267.50 275.70,267.71 272.37,270.40 273.49,274.54 269.90,272.20 266.31,274.54 267.43,270.40 264.10,267.71 268.37,267.50" fill="#000"/>
<polygon points="289.10,263.50 290.63,267.50 294.90,267.71 291.57,270.40 292.69,274.54 289.10,272.20 285.51,274.54 286.63,270.40 283.30,267.71 287.57,267.50" fill="#000"/>
<polygon points="313.30,263.80 314.83,267.80 319.10,268.01 315.77,270.70 316.89,274.84 313.30,272.50 309.71,274.84 310.83,270.70 307.50,268.01 311.77,267.80" fill="#000"/>
<rect x="408.5" y="30.6" width="269.1" height="268.09999999999997" fill="none" stroke="#3a3a3a" stroke-width="1.2"/>
<path d="M413.85 298.7v-3.5M413.85 30.6v3.5M440.20 298.7v-7M440.20 30.6v7M466.55 298.7v-3.5M466.55 30.6v3.5M492.90 298.7v-7M492.90 30.6v7M519.25 298.7v-3.5M519.25 30.6v3.5M545.60 298.7v-7M545.60 30.6v7M571.95 298.7v-3.5M571.95 30.6v3.5M598.30 298.7v-7M598.30 30.6v7M624.65 298.7v-3.5M624.65 30.6v3.5M651.00 298.7v-7M651.00 30.6v7M408.5 277.90h7M677.6 277.90h-7M408.5 225.80h7M677.6 225.80h-7M408.5 173.70h7M677.6 173.70h-7M408.5 121.60h7M677.6 121.60h-7M408.5 69.50h7M677.6 69.50h-7" stroke="#1a1a1a" stroke-width="1.1" fill="none"/>
<text x="440.20" y="321.1" font-family="Liberation Sans" font-size="16" text-anchor="middle" fill="#111">240</text>
<text x="492.90" y="321.1" font-family="Liberation Sans" font-size="16" text-anchor="middle" fill="#111">250</text>
<text x="545.60" y="321.1" font-family="Liberation Sans" font-size="16" text-anchor="middle" fill="#111">260</text>
<text x="598.30" y="321.1" font-family="Liberation Sans" font-size="16" text-anchor="middle" fill="#111">270</text>
<text x="651.00" y="321.1" font-family="Liberation Sans" font-size="16" text-anchor="middle" fill="#111">280</text>
<text x="395.3" y="283.10" font-family="Liberation Sans" font-size="16" text-anchor="middle" fill="#111">0</text>
<text x="395.3" y="231.00" font-family="Liberation Sans" font-size="16" text-anchor="middle" fill="#111">2</text>
<text x="395.3" y="178.90" font-family="Liberation Sans" font-size="16" text-anchor="middle" fill="#111">4</text>
<text x="395.3" y="126.80" font-family="Liberation Sans" font-size="16" text-anchor="middle" fill="#111">6</text>
<text x="395.3" y="74.70" font-family="Liberation Sans" font-size="16" text-anchor="middle" fill="#111">8</text>
<text x="343" y="18" font-family="Liberation Sans" font-size="20" fill="#111">(b)</text>
<text x="475.5" y="351.3" font-family="Liberation Sans" font-size="18.5" fill="#111" textLength="134.5" lengthAdjust="spacingAndGlyphs">Temperature (K)</text>
<text transform="translate(377.9,266.4) rotate(-90)" x="0" y="0" font-family="Liberation Sans" font-size="18.5" fill="#111">Resistivity (Ohm cm/10<tspan font-size="12.5" dy="-8.5">6</tspan><tspan dy="8.5">)</tspan></text>
<path d="M537.7,52.0 537.7,52.3 537.8,52.5 537.8,52.8 537.9,53.1 538.0,53.3 538.1,53.5 538.2,53.6 538.2,53.8 538.3,53.9 538.3,54.1 538.7,59.8 540.3,66.3 540.4,66.5 540.4,66.6 540.4,66.8 540.4,67.0 539.6,73.4 541.1,81.2 545.1,85.9 545.2,86.0 550.1,92.6 550.2,92.8 550.3,92.9 550.4,93.1 552.8,99.7 555.3,106.3 556.8,109.3 561.6,114.1 561.7,114.2 561.8,114.4 561.9,114.5 562.0,114.7 562.1,114.9 562.1,115.1 562.1,115.2 562.1,115.4 562.1,115.6 562.1,115.8 562.0,116.0 562.0,116.1 561.9,116.3 561.8,116.4 561.7,116.6 561.5,116.7 561.4,116.8 561.1,117.1 560.8,117.3 560.6,117.6 560.3,117.9 560.1,118.2 560.0,118.5 559.9,118.9 559.8,119.3 559.7,119.6 559.7,120.0 559.7,120.4 559.8,120.7 559.9,121.1 560.0,121.5 560.1,121.8 560.3,122.1 560.6,122.4 560.8,122.7 561.1,122.9 561.4,123.2 561.7,123.4 562.1,123.5 562.1,123.5 562.1,123.5 562.2,123.6 562.4,123.7 562.5,123.8 562.7,123.9 562.8,124.0 562.9,124.2 567.6,130.9 567.7,131.1 567.8,131.3 567.9,131.5 570.3,139.7 572.8,146.4 575.3,153.1 575.4,153.2 577.1,159.8 577.1,160.0 577.9,166.5 579.5,172.9 583.4,179.3 590.8,185.8 591.0,185.9 591.1,186.0 596.0,192.6 596.1,192.8 596.2,192.9 596.3,193.1 598.7,199.6 598.8,199.9 600.4,206.5 602.0,212.9 603.2,214.0 603.3,214.1 603.4,214.3 603.5,214.4 603.6,214.6 603.7,214.7 606.1,221.1 610.9,227.6 617.5,234.2 617.6,234.3 623.5,240.9 630.1,247.6 636.8,254.2 644.1,259.1 644.2,259.2 653.7,266.6 653.8,266.8 654.0,266.9 654.1,267.0 654.2,267.2 654.2,267.4 654.3,267.5 655.9,272.8 669.6,272.8 674.9,269.1 673.1,265.9 666.5,262.6 666.4,262.6 655.1,256.6 654.9,256.5 654.8,256.4 654.7,256.3 654.5,256.2 654.4,256.1 648.0,246.9 642.8,242.7 642.7,242.6 642.5,242.4 642.4,242.3 638.3,235.7 638.3,235.7 634.1,229.0 634.1,229.0 630.1,222.5 626.1,219.3 626.0,219.2 625.9,219.1 625.8,218.9 625.7,218.7 623.3,214.1 619.1,207.5 613.4,200.9 613.3,200.8 613.3,200.7 609.2,194.2 602.6,187.6 602.5,187.5 602.4,187.3 602.3,187.2 602.2,187.0 599.8,180.6 596.7,174.2 596.3,174.0 596.2,173.8 596.1,173.7 596.0,173.6 595.9,173.4 595.8,173.3 595.7,173.1 595.6,172.9 595.6,172.9 595.5,172.5 595.4,172.2 595.2,171.9 594.9,171.6 594.7,171.3 594.4,171.1 594.1,170.8 593.8,170.6 593.5,170.5 593.1,170.4 592.7,170.3 592.4,170.2 592.0,170.2 591.9,170.2 591.7,170.2 591.5,170.2 591.3,170.2 591.2,170.1 591.0,170.0 590.9,170.0 590.7,169.9 589.1,168.7 589.0,168.6 588.8,168.5 588.7,168.3 588.6,168.2 588.6,168.0 588.5,167.9 588.4,167.7 588.4,167.5 588.4,167.3 588.4,167.2 588.4,167.0 588.4,166.8 588.5,166.7 588.5,166.5 588.6,166.3 588.7,166.2 588.8,166.0 589.0,165.9 589.1,165.8 589.2,165.7 589.4,165.6 589.6,165.6 589.7,165.5 589.9,165.5 590.1,165.5 590.3,165.5 590.4,165.5 590.6,165.5 590.7,165.5 591.1,165.6 591.5,165.6 591.9,165.6 592.3,165.5 592.7,165.4 593.1,165.3 593.5,165.1 593.9,164.9 594.2,164.6 594.5,164.3 594.8,164.0 595.1,163.7 595.3,163.3 595.5,162.9 595.6,162.5 595.7,162.1 595.8,161.7 595.8,161.3 595.8,160.9 595.7,160.5 595.6,160.1 595.5,159.7 595.3,159.3 595.1,158.9 594.8,158.6 594.5,158.3 594.2,158.0 593.9,157.7 593.5,157.5 593.1,157.3 592.7,157.2 592.3,157.1 591.9,157.0 591.5,157.0 591.1,157.0 590.7,157.1 590.3,157.2 589.9,157.3 589.5,157.5 589.1,157.7 588.8,158.0 588.5,158.3 588.2,158.6 587.9,158.9 587.8,159.1 587.7,159.2 587.6,159.4 587.5,159.5 587.3,159.6 587.2,159.7 587.0,159.8 586.9,159.9 586.7,159.9 586.5,160.0 586.3,160.0 586.2,160.0 586.0,159.9 585.8,159.9 585.6,159.9 585.5,159.8 585.3,159.7 585.2,159.6 585.0,159.5 584.9,159.4 584.8,159.2 584.7,159.1 584.6,158.9 584.6,158.7 584.5,158.6 584.5,158.4 583.9,153.6 583.9,153.6 583.1,147.2 579.9,140.7 579.8,140.6 579.7,140.4 579.7,140.3 578.0,132.0 575.6,123.8 574.1,120.6 574.0,120.4 573.9,120.2 573.9,120.1 573.1,113.8 573.1,113.6 573.1,113.4 573.1,113.3 573.2,113.1 573.2,112.9 574.4,109.8 574.5,109.6 574.6,109.5 574.6,109.3 574.8,109.2 574.9,109.1 575.0,109.0 575.2,108.8 575.5,108.5 575.8,108.2 576.1,107.9 576.2,107.7 576.3,107.6 576.4,107.4 576.5,107.3 576.6,107.2 576.8,107.1 576.9,107.0 577.1,107.0 577.3,106.9 577.5,106.9 577.6,106.9 577.8,106.9 578.0,106.9 578.2,106.9 578.3,107.0 578.5,107.0 578.6,107.1 578.8,107.2 578.9,107.3 579.0,107.4 579.2,107.6 579.3,107.7 579.3,107.9 579.4,108.0 579.6,108.4 579.9,108.7 580.2,109.0 580.5,109.3 580.8,109.6 581.2,109.8 581.6,110.0 582.0,110.1 582.4,110.2 582.8,110.3 583.2,110.3 583.6,110.3 584.0,110.2 584.4,110.1 584.8,110.0 585.2,109.8 585.6,109.6 585.9,109.3 586.2,109.0 586.5,108.7 586.8,108.4 587.0,108.0 587.2,107.6 587.3,107.2 587.4,106.8 587.5,106.4 587.5,106.0 587.5,105.6 587.4,105.2 587.3,104.8 587.2,104.4 587.0,104.0 586.8,103.6 586.5,103.3 586.2,103.0 585.9,102.7 585.6,102.4 585.2,102.2 584.8,102.0 584.4,101.9 584.0,101.8 583.6,101.7 583.2,101.7 582.8,101.7 582.4,101.8 582.0,101.9 581.6,102.0 581.2,102.2 580.8,102.4 580.5,102.7 580.2,103.0 579.9,103.3 579.6,103.6 579.5,103.8 579.4,103.9 579.3,104.1 579.2,104.2 579.1,104.3 578.9,104.4 578.8,104.5 578.6,104.5 578.4,104.6 578.2,104.6 578.1,104.6 577.9,104.6 577.7,104.6 577.5,104.6 577.4,104.5 577.2,104.5 577.1,104.4 576.9,104.3 576.8,104.2 576.7,104.1 576.5,103.9 576.4,103.8 576.4,103.6 576.3,103.5 576.1,103.1 575.8,102.8 575.5,102.5 575.2,102.2 574.9,101.9 574.5,101.7 574.1,101.5 573.7,101.4 573.3,101.3 572.9,101.2 572.5,101.2 572.2,101.2 572.0,101.2 571.8,101.2 571.7,101.2 571.5,101.1 571.3,101.1 571.2,101.0 571.0,100.9 570.9,100.8 570.8,100.7 570.7,100.5 570.6,100.4 566.6,94.1 566.5,93.9 566.5,93.8 564.0,87.2 561.6,82.5 561.6,82.3 561.5,82.1 561.5,82.0 561.5,81.8 561.4,81.6 561.5,81.4 561.5,81.2 561.5,81.1 562.9,77.0 560.1,74.3 560.0,74.2 559.8,74.0 555.8,67.5 555.7,67.4 555.7,67.2 555.6,67.1 555.6,66.9 555.5,66.7 555.5,66.6 555.5,66.4 555.6,66.2 556.9,59.2 557.0,59.1 557.0,59.0 557.0,58.9 557.1,58.5 557.2,58.2 557.2,58.1 557.2,58.0 557.2,57.8 557.2,57.8 557.2,57.4 557.1,57.1 557.0,56.7 556.9,56.3 556.8,56.0 556.6,55.7 556.3,55.4 556.1,55.1 555.8,54.9 555.5,54.6 555.2,54.4 554.9,54.3 554.5,54.2 554.1,54.1 553.8,54.0 553.4,54.0 553.3,54.0 553.1,54.0 548.7,53.1 548.5,53.0 548.4,53.0 548.2,52.9 548.1,52.8 547.9,52.7 547.8,52.6 547.7,52.5 547.6,52.3 547.5,52.2 547.4,52.0 547.3,51.9 547.3,51.7 547.3,51.5 547.3,51.3 547.3,51.2 547.3,51.0 547.3,50.8 547.4,50.7 547.4,50.5 547.5,50.4 547.6,50.2 547.7,50.1 547.8,50.0 547.9,49.9 548.1,49.8 548.2,49.7 548.4,49.6 548.8,49.4 549.1,49.2 549.5,48.9 549.8,48.6 550.1,48.3 550.4,47.9 550.6,47.6 550.8,47.2 550.9,46.8 551.0,46.4 551.1,46.0 551.1,45.9 551.1,45.8 551.1,45.5 551.1,45.1 551.0,44.6 550.9,44.2 550.8,43.8 550.6,43.4 550.4,43.1 550.1,42.7 549.8,42.4 549.5,42.1 549.1,41.8 548.8,41.6 548.4,41.4 548.0,41.3 547.6,41.2 547.1,41.1 546.7,41.1 546.3,41.1 545.8,41.2 545.4,41.3 545.0,41.4 544.6,41.6 544.3,41.8 543.9,42.1 543.6,42.4 543.3,42.7 543.0,43.1 542.8,43.4 542.6,43.8 542.5,44.2 542.4,44.6 542.3,45.1 542.3,45.5 542.3,45.9 542.4,46.3 542.4,46.5 542.4,46.7 542.4,46.8 542.3,47.0 542.3,47.2 542.2,47.4 542.1,47.5 542.0,47.7 541.9,47.8 541.9,47.8 541.2,48.6 541.0,48.8 540.9,48.9 540.7,49.0 540.6,49.1 540.4,49.1 540.2,49.2 540.1,49.2 540.0,49.3 539.7,49.3 539.4,49.4 539.2,49.5 538.9,49.7 538.7,49.8 538.5,50.0 538.3,50.2 538.2,50.4 538.0,50.7 537.9,50.9 537.8,51.2 537.8,51.5 537.7,51.7 537.7,52.0Z" fill="#ff2412"/>
<g fill="#ff2412"><circle cx="542.6" cy="52.2" r="5.5"/><circle cx="542.3" cy="58.7" r="5.6"/><circle cx="544.0" cy="65.9" r="5.2"/><circle cx="543.7" cy="70.3" r="5.7"/><circle cx="544.2" cy="77.6" r="5.3"/><circle cx="549.2" cy="85.1" r="5.5"/><circle cx="552.7" cy="89.9" r="5.5"/><circle cx="555.1" cy="95.3" r="5.3"/><circle cx="557.4" cy="101.4" r="5.7"/><circle cx="559.8" cy="107.1" r="5.6"/><circle cx="564.8" cy="112.1" r="5.2"/><circle cx="564.8" cy="118.6" r="5.6"/><circle cx="565.7" cy="121.7" r="5.2"/><circle cx="570.6" cy="128.7" r="5.5"/><circle cx="572.6" cy="134.4" r="5.7"/><circle cx="574.6" cy="140.6" r="5.8"/><circle cx="576.5" cy="145.7" r="5.7"/><circle cx="578.9" cy="152.0" r="5.8"/><circle cx="580.8" cy="159.9" r="5.3"/><circle cx="581.3" cy="163.7" r="5.3"/><circle cx="583.8" cy="172.9" r="5.5"/><circle cx="586.7" cy="177.3" r="5.4"/><circle cx="591.4" cy="181.3" r="5.4"/><circle cx="595.4" cy="185.7" r="5.6"/><circle cx="599.7" cy="191.7" r="5.7"/><circle cx="602.1" cy="198.2" r="5.8"/><circle cx="603.8" cy="205.2" r="5.8"/><circle cx="605.3" cy="210.9" r="5.3"/><circle cx="608.6" cy="217.2" r="5.8"/><circle cx="612.0" cy="222.9" r="5.5"/><circle cx="615.9" cy="227.3" r="5.3"/><circle cx="620.8" cy="232.3" r="5.5"/><circle cx="623.8" cy="235.7" r="5.2"/><circle cx="629.8" cy="241.9" r="5.8"/><circle cx="632.5" cy="244.6" r="5.7"/><circle cx="637.9" cy="250.1" r="5.3"/><circle cx="642.8" cy="253.8" r="5.7"/><circle cx="649.8" cy="258.9" r="5.2"/><circle cx="654.2" cy="262.3" r="5.2"/><circle cx="658.2" cy="267.7" r="5.4"/><circle cx="664.4" cy="269.1" r="5.8"/><circle cx="669.4" cy="268.5" r="5.8"/><circle cx="664.7" cy="265.8" r="5.2"/><circle cx="657.9" cy="262.3" r="5.2"/><circle cx="653.4" cy="259.9" r="5.4"/><circle cx="648.3" cy="253.8" r="5.3"/><circle cx="645.7" cy="250.1" r="5.7"/><circle cx="640.1" cy="245.2" r="5.8"/><circle cx="635.3" cy="238.0" r="5.4"/><circle cx="632.7" cy="233.7" r="5.5"/><circle cx="628.9" cy="227.6" r="5.6"/><circle cx="624.8" cy="223.0" r="5.6"/><circle cx="620.3" cy="216.5" r="5.5"/><circle cx="617.9" cy="212.5" r="5.6"/><circle cx="614.4" cy="207.8" r="5.4"/><circle cx="608.8" cy="200.5" r="5.5"/><circle cx="606.1" cy="196.3" r="5.2"/><circle cx="601.8" cy="192.0" r="5.5"/><circle cx="598.6" cy="188.0" r="5.6"/><circle cx="595.3" cy="179.9" r="5.2"/><circle cx="592.2" cy="174.2" r="5.5"/><circle cx="586.4" cy="171.2" r="5.4"/><circle cx="585.1" cy="165.1" r="5.6"/><circle cx="583.7" cy="163.0" r="5.2"/><circle cx="580.4" cy="155.3" r="5.8"/><circle cx="579.8" cy="150.3" r="5.5"/><circle cx="576.9" cy="143.1" r="5.4"/><circle cx="575.4" cy="137.6" r="5.4"/><circle cx="573.9" cy="131.2" r="5.6"/><circle cx="572.1" cy="125.2" r="5.4"/><circle cx="569.8" cy="117.3" r="5.2"/><circle cx="569.8" cy="111.6" r="5.6"/><circle cx="572.2" cy="106.5" r="5.3"/><circle cx="567.5" cy="102.4" r="5.3"/><circle cx="565.2" cy="98.7" r="5.5"/><circle cx="561.5" cy="91.2" r="5.3"/><circle cx="559.5" cy="86.4" r="5.4"/><circle cx="558.5" cy="78.5" r="5.5"/><circle cx="555.0" cy="73.1" r="5.3"/><circle cx="552.5" cy="69.2" r="5.6"/><circle cx="552.9" cy="60.8" r="5.5"/><circle cx="552.5" cy="57.6" r="5.3"/><circle cx="545.3" cy="55.3" r="5.3"/><circle cx="547.1" cy="46.1" r="5.7"/><circle cx="583.4" cy="105.4" r="5.4"/><circle cx="591.5" cy="161.9" r="5.6"/><circle cx="546.7" cy="45.5" r="5.6"/><circle cx="553.4" cy="57.8" r="5"/><circle cx="583.2" cy="106" r="5.5"/><circle cx="572.5" cy="105.5" r="5.5"/><circle cx="563.5" cy="120" r="5"/><circle cx="591.5" cy="161.3" r="5.5"/><circle cx="592" cy="174" r="5"/><circle cx="540.5" cy="52" r="4"/></g>
<path d="M405.4,119.4 406.1,124.3 408.9,126.2 409.0,126.3 409.2,126.4 409.3,126.6 409.4,126.7 409.5,126.9 409.6,127.0 409.6,127.2 411.1,132.8 414.9,137.6 419.3,142.6 422.7,145.7 422.8,145.8 422.9,145.9 423.0,146.1 423.1,146.2 423.1,146.4 423.2,146.6 423.2,146.7 424.8,157.3 429.5,161.4 446.6,173.9 446.7,174.0 446.8,174.2 446.9,174.3 447.0,174.4 447.1,174.6 447.2,174.7 454.4,192.7 454.4,192.8 454.4,192.8 454.4,192.8 454.4,192.8 457.8,201.2 457.8,201.4 457.9,201.5 459.6,209.7 463.1,219.5 469.0,229.3 475.9,239.2 482.3,245.1 490.2,251.5 496.6,255.5 502.6,258.9 502.7,259.1 510.6,264.9 540.2,274.8 610.0,279.8 676.9,280.5 676.9,280.5 677.1,280.5 677.2,280.5 677.5,280.5 677.9,280.5 678.3,280.4 678.7,280.3 679.1,280.2 679.5,280.0 679.8,279.8 680.2,279.5 680.5,279.3 680.7,279.0 681.0,278.6 681.2,278.3 681.4,277.9 681.5,277.5 681.6,277.1 681.7,276.7 681.7,276.6 681.7,276.4 681.7,276.3 681.7,276.2 681.7,276.0 681.7,275.9 681.6,275.5 681.5,275.1 681.4,274.7 681.2,274.3 681.0,274.0 680.7,273.6 680.5,273.3 680.2,273.1 679.8,272.8 679.5,272.6 679.1,272.4 678.7,272.3 678.3,272.2 677.9,272.1 677.5,272.1 677.2,272.1 677.0,272.1 676.9,272.1 640.0,271.7 639.9,271.7 610.0,270.5 600.0,270.2 599.9,270.2 571.7,268.4 571.7,268.4 545.0,266.0 544.8,266.0 544.6,265.9 532.2,262.2 532.1,262.1 531.9,262.0 522.8,257.4 522.6,257.3 513.5,251.2 513.3,251.1 504.2,243.6 504.1,243.5 504.0,243.3 503.9,243.2 497.8,234.1 497.7,233.9 493.1,224.8 493.1,224.7 490.4,218.6 490.4,218.4 490.3,218.3 490.3,218.1 490.3,217.9 490.3,217.8 490.3,217.6 490.3,217.2 490.2,216.8 490.1,216.4 490.0,216.0 489.8,215.6 489.6,215.2 489.3,214.9 489.0,214.6 488.7,214.3 488.4,214.0 488.0,213.8 487.6,213.6 487.2,213.5 486.8,213.4 486.4,213.3 486.0,213.3 485.6,213.3 485.2,213.4 484.8,213.5 484.4,213.6 484.0,213.8 483.6,214.0 483.6,214.1 483.4,214.2 483.3,214.2 483.1,214.3 482.9,214.4 482.7,214.4 482.5,214.4 482.4,214.4 482.2,214.4 482.0,214.3 481.8,214.3 481.7,214.2 480.5,213.6 475.3,211.5 475.1,211.4 475.0,211.3 474.8,211.2 474.7,211.1 474.6,210.9 474.5,210.8 474.4,210.6 474.3,210.5 474.2,210.3 474.2,210.2 474.2,210.0 474.1,209.8 474.2,209.6 474.2,209.4 474.2,209.3 474.3,209.1 474.4,208.9 475.8,206.3 475.9,206.1 476.0,205.9 476.2,205.8 476.4,205.5 476.7,205.2 477.0,204.9 477.2,204.5 477.4,204.1 477.5,203.7 477.6,203.3 477.7,203.0 477.7,202.9 477.7,202.8 477.7,202.5 477.7,202.1 477.6,201.7 477.5,201.3 477.4,200.9 477.2,200.5 477.0,200.1 476.7,199.8 476.4,199.5 476.1,199.2 475.8,198.9 475.4,198.7 475.0,198.5 474.6,198.4 474.2,198.3 473.8,198.2 473.4,198.2 473.0,198.2 472.6,198.3 472.2,198.4 471.8,198.5 471.4,198.7 471.0,198.9 470.7,199.1 470.6,199.2 470.4,199.3 470.3,199.4 470.1,199.4 469.9,199.5 469.7,199.5 469.6,199.5 469.4,199.4 469.2,199.4 469.0,199.4 468.9,199.3 467.7,198.7 467.5,198.7 467.3,198.6 467.1,198.6 467.0,198.5 466.8,198.5 466.7,198.4 466.5,198.3 466.4,198.2 466.3,198.1 466.3,198.1 466.3,198.1 466.0,197.8 465.7,197.6 465.3,197.4 465.0,197.2 464.6,197.1 464.2,197.0 463.8,196.9 463.4,196.9 463.2,196.9 463.0,196.9 462.9,196.9 462.7,196.9 462.5,196.8 462.4,196.7 462.2,196.7 462.1,196.5 461.9,196.4 461.8,196.3 461.7,196.2 461.6,196.0 461.5,195.9 461.4,195.7 461.4,195.5 461.4,195.3 461.3,195.2 461.3,195.0 461.4,194.8 461.4,194.6 461.8,193.3 461.8,193.2 461.9,193.0 462.0,192.8 462.1,192.4 462.2,192.0 462.3,191.6 462.3,191.6 462.3,191.4 462.3,191.3 462.3,191.2 462.3,190.8 462.2,190.4 462.1,190.0 462.0,189.6 461.8,189.3 461.6,188.9 461.4,188.6 461.1,188.3 460.8,188.0 460.5,187.8 460.1,187.6 459.8,187.4 459.4,187.3 459.1,187.2 459.0,187.2 458.8,187.1 458.7,187.0 458.5,186.9 458.4,186.8 458.3,186.7 458.2,186.6 455.2,182.7 455.1,182.6 455.0,182.4 454.9,182.3 454.9,182.1 454.8,181.9 454.8,181.7 454.8,181.5 454.8,181.4 454.9,181.2 454.9,181.0 455.0,180.8 457.6,175.3 457.7,175.2 457.8,175.1 457.9,174.9 458.1,174.8 458.3,174.5 458.6,174.2 458.9,173.9 459.1,173.5 459.3,173.1 459.4,172.7 459.5,172.3 459.6,171.9 459.6,171.5 459.6,171.1 459.5,170.7 459.4,170.3 459.3,169.9 459.1,169.5 458.9,169.1 458.6,168.8 458.3,168.5 458.0,168.2 457.7,167.9 457.3,167.7 456.9,167.5 456.5,167.4 456.1,167.3 455.7,167.2 455.3,167.2 454.9,167.2 454.5,167.3 454.1,167.4 453.7,167.5 453.3,167.7 452.9,167.9 452.6,168.2 452.3,168.4 452.2,168.5 452.0,168.6 451.9,168.7 451.7,168.8 451.6,168.8 451.4,168.8 451.2,168.9 451.0,168.9 450.9,168.9 450.7,168.8 450.5,168.8 450.4,168.7 449.1,168.1 449.0,168.1 448.8,168.0 448.7,167.9 448.6,167.8 445.2,164.3 445.0,164.1 435.1,150.7 434.9,150.6 428.9,139.7 428.8,139.6 428.7,139.4 428.7,139.2 428.7,139.1 428.7,138.9 428.7,138.7 428.7,138.6 428.7,138.4 428.8,138.2 429.4,136.3 429.5,136.2 429.6,136.0 429.7,135.9 429.9,135.6 430.1,135.2 430.3,134.9 430.4,134.5 430.5,134.1 430.6,133.7 430.6,133.3 430.6,132.9 430.5,132.5 430.4,132.1 430.3,131.7 430.1,131.4 429.9,131.0 429.7,130.7 429.4,130.4 429.1,130.1 428.8,129.9 428.4,129.7 428.1,129.5 427.7,129.4 427.3,129.3 426.9,129.2 426.5,129.2 426.0,129.2 425.9,129.2 425.7,129.2 425.5,129.2 425.4,129.1 425.2,129.1 425.1,129.0 424.9,128.9 424.8,128.8 423.5,127.7 423.4,127.6 423.3,127.5 423.2,127.3 423.1,127.2 423.0,127.0 419.9,119.1 415.5,115.2 410.6,114.8 410.5,114.8 410.4,114.8 410.0,114.8 409.6,114.8 409.1,114.9 408.7,115.0 408.3,115.1 407.9,115.3 407.6,115.5 407.2,115.8 406.9,116.1 406.6,116.4 406.3,116.8 406.1,117.1 405.9,117.5 405.8,117.9 405.7,118.3 405.6,118.7 405.6,118.8 405.6,119.0 405.5,119.2 405.4,119.3 405.4,119.4Z" fill="#8a1111"/>
<g fill="#8a1111"><circle cx="409.3" cy="120.9" r="5.4"/><circle cx="412.0" cy="124.0" r="5.4"/><circle cx="415.5" cy="132.4" r="5.4"/><circle cx="418.8" cy="136.5" r="5.5"/><circle cx="423.7" cy="141.6" r="5.4"/><circle cx="427.3" cy="149.1" r="5.3"/><circle cx="427.9" cy="152.6" r="5.8"/><circle cx="433.8" cy="160.0" r="5.8"/><circle cx="438.0" cy="163.1" r="5.8"/><circle cx="439.1" cy="162.3" r="5.3"/><circle cx="435.4" cy="157.4" r="5.7"/><circle cx="431.6" cy="152.1" r="5.5"/><circle cx="428.9" cy="147.3" r="5.4"/><circle cx="425.6" cy="141.5" r="5.2"/><circle cx="426.6" cy="133.8" r="5.4"/><circle cx="420.9" cy="130.3" r="5.2"/><circle cx="417.8" cy="123.9" r="5.6"/><circle cx="413.6" cy="118.8" r="5.7"/><circle cx="450.8" cy="173.8" r="5.5"/><circle cx="453.4" cy="175.7" r="5.6"/><circle cx="458.6" cy="191.0" r="5.4"/><circle cx="461.5" cy="200.9" r="5.5"/><circle cx="462.7" cy="206.4" r="5.8"/><circle cx="464.8" cy="213.3" r="5.4"/><circle cx="466.6" cy="218.2" r="5.7"/><circle cx="470.4" cy="224.5" r="5.7"/><circle cx="473.7" cy="229.6" r="5.3"/><circle cx="477.8" cy="235.5" r="5.7"/><circle cx="481.4" cy="239.2" r="5.7"/><circle cx="488.4" cy="245.3" r="5.7"/><circle cx="493.3" cy="249.1" r="5.2"/><circle cx="498.2" cy="252.1" r="5.7"/><circle cx="502.0" cy="254.4" r="5.4"/><circle cx="508.1" cy="258.4" r="5.5"/><circle cx="514.0" cy="262.2" r="5.5"/><circle cx="521.4" cy="264.6" r="5.2"/><circle cx="525.2" cy="265.9" r="5.3"/><circle cx="531.6" cy="268.0" r="5.2"/><circle cx="540.7" cy="271.1" r="5.7"/><circle cx="544.0" cy="271.4" r="5.5"/><circle cx="551.3" cy="271.9" r="5.4"/><circle cx="558.0" cy="272.4" r="5.6"/><circle cx="565.3" cy="272.9" r="5.4"/><circle cx="570.4" cy="273.3" r="5.4"/><circle cx="576.7" cy="273.7" r="5.5"/><circle cx="585.3" cy="274.3" r="5.4"/><circle cx="589.5" cy="274.6" r="5.3"/><circle cx="597.1" cy="275.2" r="5.6"/><circle cx="605.1" cy="275.7" r="5.4"/><circle cx="611.7" cy="276.1" r="5.6"/><circle cx="616.8" cy="276.2" r="5.4"/><circle cx="623.6" cy="276.2" r="5.6"/><circle cx="629.9" cy="276.3" r="5.6"/><circle cx="636.5" cy="276.4" r="5.3"/><circle cx="643.3" cy="276.4" r="5.6"/><circle cx="648.2" cy="276.5" r="5.5"/><circle cx="656.0" cy="276.6" r="5.7"/><circle cx="664.3" cy="276.7" r="5.4"/><circle cx="670.7" cy="276.7" r="5.7"/><circle cx="675.0" cy="276.8" r="5.5"/><circle cx="675.6" cy="275.8" r="5.7"/><circle cx="667.1" cy="275.7" r="5.7"/><circle cx="660.1" cy="275.6" r="5.6"/><circle cx="653.8" cy="275.5" r="5.5"/><circle cx="649.5" cy="275.5" r="5.6"/><circle cx="643.4" cy="275.4" r="5.3"/><circle cx="634.1" cy="275.2" r="5.2"/><circle cx="630.0" cy="275.0" r="5.3"/><circle cx="620.6" cy="274.6" r="5.3"/><circle cx="617.2" cy="274.5" r="5.7"/><circle cx="610.3" cy="274.2" r="5.7"/><circle cx="601.8" cy="274.0" r="5.7"/><circle cx="594.3" cy="273.5" r="5.5"/><circle cx="588.3" cy="273.2" r="5.2"/><circle cx="581.9" cy="272.8" r="5.5"/><circle cx="575.6" cy="272.4" r="5.3"/><circle cx="569.0" cy="271.9" r="5.8"/><circle cx="564.9" cy="271.5" r="5.4"/><circle cx="556.6" cy="270.8" r="5.7"/><circle cx="551.3" cy="270.3" r="5.3"/><circle cx="544.8" cy="269.7" r="5.6"/><circle cx="536.8" cy="267.4" r="5.4"/><circle cx="531.8" cy="265.9" r="5.4"/><circle cx="526.0" cy="263.2" r="5.5"/><circle cx="521.0" cy="260.6" r="5.5"/><circle cx="512.9" cy="255.3" r="5.4"/><circle cx="508.4" cy="251.8" r="5.3"/><circle cx="503.5" cy="247.8" r="5.7"/><circle cx="499.3" cy="243.0" r="5.5"/><circle cx="496.1" cy="238.1" r="5.6"/><circle cx="492.2" cy="231.1" r="5.3"/><circle cx="490.6" cy="227.9" r="5.6"/><circle cx="486.8" cy="219.2" r="5.5"/><circle cx="483.9" cy="217.9" r="5.6"/><circle cx="478.6" cy="216.8" r="5.4"/><circle cx="472.6" cy="214.2" r="5.6"/><circle cx="470.8" cy="207.9" r="5.3"/><circle cx="472.9" cy="202.1" r="5.8"/><circle cx="468.0" cy="202.9" r="5.6"/><circle cx="410" cy="119.2" r="5.6"/><circle cx="426.5" cy="133.3" r="5.3"/><circle cx="455.3" cy="171.5" r="5.5"/><circle cx="458.2" cy="191.2" r="5.3"/><circle cx="463.4" cy="201" r="5.3"/><circle cx="473.4" cy="202.5" r="5.5"/><circle cx="486" cy="217.6" r="5.5"/><circle cx="677.5" cy="276.3" r="5.4"/></g>
<path d="M430.3,144.5 430.3,144.9 430.4,145.3 430.4,145.5 430.4,145.6 430.4,145.6 430.4,145.6 430.8,152.2 432.1,163.2 433.2,169.7 436.1,176.2 436.1,176.3 436.2,176.5 439.6,191.5 442.8,201.2 444.5,204.5 444.6,204.8 449.5,219.6 451.7,224.5 451.7,224.7 451.8,224.9 452.7,229.8 453.7,234.6 453.7,234.8 453.7,235.0 453.7,235.1 453.7,235.3 453.6,235.5 453.6,235.6 453.5,235.8 453.4,235.9 453.3,236.1 453.3,236.2 453.1,236.4 453.0,236.7 452.8,237.0 452.8,237.4 452.7,237.7 452.7,238.0 452.7,238.3 452.8,238.6 452.8,239.0 453.0,239.3 453.1,239.6 453.3,239.8 453.5,240.1 453.7,240.3 453.9,240.5 454.2,240.7 454.4,240.9 454.7,241.0 455.0,241.2 455.4,241.2 455.7,241.3 456.0,241.3 456.3,241.3 456.6,241.2 456.9,241.2 457.1,241.1 457.2,241.1 457.4,241.1 457.6,241.1 457.8,241.2 457.9,241.2 458.1,241.3 458.2,241.4 458.4,241.5 458.5,241.6 458.6,241.7 458.8,241.8 459.8,243.2 459.9,243.3 459.9,243.5 460.0,243.6 460.1,243.8 460.1,244.0 460.1,244.2 460.1,244.3 460.1,244.5 460.1,244.7 460.0,244.9 459.9,245.0 459.9,245.2 459.8,245.3 459.7,245.4 459.5,245.7 459.4,245.9 459.3,246.2 459.3,246.5 459.2,246.7 459.2,247.0 459.2,247.3 459.3,247.5 459.3,247.8 459.4,248.1 459.5,248.3 459.7,248.6 459.8,248.8 460.0,249.0 460.2,249.2 460.4,249.3 460.7,249.5 460.9,249.6 461.2,249.7 461.5,249.7 461.7,249.8 462.0,249.8 462.3,249.8 462.5,249.7 462.8,249.7 463.1,249.6 463.3,249.5 463.6,249.3 463.8,249.2 463.9,249.1 464.1,249.0 464.2,248.9 464.4,248.9 464.6,248.8 464.8,248.8 464.9,248.8 465.1,248.8 465.3,248.9 465.5,248.9 465.6,249.0 465.8,249.1 465.9,249.2 466.1,249.3 466.2,249.4 471.0,254.8 471.0,254.8 477.8,262.8 485.2,269.0 491.3,271.9 508.2,275.3 530.1,278.0 546.0,279.0 546.0,279.0 570.1,280.8 610.0,281.8 660.0,281.4 660.4,281.4 660.8,281.3 661.2,281.2 661.6,281.1 662.0,280.9 662.3,280.7 662.7,280.4 663.0,280.2 663.2,279.9 663.5,279.5 663.7,279.2 663.9,278.8 664.0,278.4 664.1,278.0 664.2,277.6 664.2,277.2 664.2,276.8 664.1,276.4 664.0,276.0 663.9,275.6 663.7,275.2 663.5,274.9 663.2,274.5 663.0,274.2 662.7,274.0 662.3,273.7 662.0,273.5 661.6,273.3 661.2,273.2 660.8,273.1 660.4,273.0 660.0,273.0 659.6,273.0 659.2,273.1 659.2,273.1 659.0,273.1 658.8,273.1 610.0,274.0 609.9,274.0 570.0,272.6 569.8,272.6 544.9,269.2 529.9,267.7 529.8,267.7 529.6,267.6 515.3,263.7 500.1,260.6 500.0,260.6 499.8,260.5 499.7,260.4 490.7,255.7 490.6,255.7 490.5,255.6 490.3,255.4 490.2,255.3 490.1,255.2 490.0,255.0 489.9,254.9 489.9,254.7 489.8,254.6 489.8,254.4 489.8,254.2 489.8,254.1 489.7,253.7 489.6,253.3 489.5,252.9 489.3,252.5 489.1,252.1 488.8,251.8 488.5,251.5 488.2,251.2 487.9,250.9 487.5,250.7 487.1,250.5 486.7,250.4 486.3,250.3 485.9,250.2 485.5,250.2 485.1,250.2 484.7,250.3 484.3,250.4 483.9,250.5 483.5,250.7 483.1,250.9 482.9,251.0 482.7,251.1 482.6,251.2 482.4,251.2 482.2,251.2 482.0,251.2 481.9,251.2 481.7,251.1 481.5,251.1 481.3,251.0 476.6,248.6 476.4,248.6 476.3,248.4 476.2,248.3 476.0,248.2 475.9,248.0 471.0,240.7 471.0,240.6 462.0,225.7 461.9,225.5 461.9,225.4 459.9,220.5 459.8,220.3 458.4,215.4 458.3,215.3 455.9,205.4 455.8,205.2 455.8,205.1 455.8,204.9 455.8,204.8 456.3,200.0 456.3,199.8 456.4,199.6 456.5,199.4 458.1,196.0 458.1,195.8 458.2,195.6 458.4,195.5 458.5,195.4 458.8,195.1 459.1,194.8 459.3,194.5 459.5,194.1 459.7,193.8 459.8,193.4 459.9,193.0 460.0,192.6 460.0,192.2 460.0,191.8 459.9,191.4 459.8,191.0 459.7,190.6 459.5,190.3 459.3,189.9 459.1,189.6 458.8,189.3 458.5,189.0 458.2,188.8 457.8,188.6 457.5,188.4 457.1,188.3 456.7,188.2 456.3,188.1 455.9,188.1 455.5,188.1 455.5,188.1 455.3,188.1 455.1,188.1 455.0,188.1 454.8,188.1 454.6,188.0 454.5,187.9 454.3,187.9 454.2,187.8 454.1,187.6 452.3,186.0 452.2,185.9 452.1,185.7 452.0,185.6 451.9,185.5 451.8,185.3 451.8,185.1 450.5,180.3 450.5,180.3 449.7,177.0 447.6,170.4 447.5,170.3 446.0,163.8 442.6,154.9 438.8,145.2 438.7,145.1 438.6,145.0 438.5,144.8 438.4,144.7 438.4,144.5 438.3,144.3 438.3,144.1 438.3,144.1 438.2,143.7 438.1,143.3 438.0,143.0 437.8,142.6 437.6,142.3 437.4,142.0 437.1,141.7 436.8,141.4 436.5,141.2 436.2,141.0 435.8,140.8 435.5,140.7 435.1,140.6 434.7,140.5 434.3,140.5 433.9,140.5 433.5,140.6 433.1,140.7 432.8,140.8 432.4,141.0 432.1,141.2 431.8,141.4 431.5,141.7 431.2,142.0 431.0,142.3 430.8,142.6 430.6,143.0 430.5,143.3 430.4,143.7 430.3,144.1 430.3,144.5ZM431.1,122.5 431.1,122.9 431.2,123.3 431.3,123.7 431.4,124.1 431.6,124.5 431.8,124.8 432.1,125.2 432.3,125.5 432.6,125.7 433.0,126.0 433.3,126.2 433.7,126.4 434.1,126.5 434.5,126.6 434.9,126.7 435.3,126.7 435.7,126.7 436.1,126.6 436.5,126.5 436.9,126.4 437.3,126.2 437.6,126.0 438.0,125.7 438.3,125.5 438.5,125.2 438.8,124.8 439.0,124.5 439.2,124.1 439.3,123.7 439.4,123.3 439.5,122.9 439.5,122.5 439.5,122.1 439.4,121.7 439.3,121.3 439.2,120.9 439.0,120.5 438.8,120.2 438.5,119.8 438.3,119.5 438.0,119.3 437.6,119.0 437.3,118.8 436.9,118.6 436.5,118.5 436.1,118.4 435.7,118.3 435.3,118.3 434.9,118.3 434.5,118.4 434.1,118.5 433.7,118.6 433.3,118.8 433.0,119.0 432.6,119.3 432.3,119.5 432.1,119.8 431.8,120.2 431.6,120.5 431.4,120.9 431.3,121.3 431.2,121.7 431.1,122.1 431.1,122.5Z" fill="#0a00ff"/>
<g fill="#0a00ff"><circle cx="434.4" cy="144.2" r="5.7"/><circle cx="434.4" cy="151.1" r="5.4"/><circle cx="435.0" cy="156.3" r="5.2"/><circle cx="435.9" cy="163.7" r="5.4"/><circle cx="437.0" cy="169.1" r="5.4"/><circle cx="439.8" cy="175.6" r="5.7"/><circle cx="441.1" cy="181.4" r="5.8"/><circle cx="442.8" cy="189.0" r="5.6"/><circle cx="444.7" cy="195.2" r="5.7"/><circle cx="447.6" cy="202.5" r="5.5"/><circle cx="449.4" cy="207.5" r="5.6"/><circle cx="451.9" cy="215.0" r="5.4"/><circle cx="454.1" cy="220.7" r="5.8"/><circle cx="455.8" cy="226.0" r="5.3"/><circle cx="456.8" cy="231.6" r="5.6"/><circle cx="458.9" cy="237.7" r="5.8"/><circle cx="463.6" cy="242.8" r="5.3"/><circle cx="465.4" cy="245.1" r="5.4"/><circle cx="470.6" cy="248.8" r="5.6"/><circle cx="476.5" cy="255.6" r="5.7"/><circle cx="479.4" cy="258.9" r="5.7"/><circle cx="484.4" cy="263.5" r="5.5"/><circle cx="491.2" cy="267.7" r="5.3"/><circle cx="495.2" cy="268.9" r="5.7"/><circle cx="502.4" cy="270.3" r="5.4"/><circle cx="509.8" cy="271.8" r="5.6"/><circle cx="514.3" cy="272.3" r="5.4"/><circle cx="522.3" cy="273.3" r="5.5"/><circle cx="528.0" cy="274.0" r="5.6"/><circle cx="537.2" cy="274.7" r="5.4"/><circle cx="542.3" cy="275.1" r="5.3"/><circle cx="547.9" cy="275.4" r="5.6"/><circle cx="553.9" cy="275.9" r="5.7"/><circle cx="563.3" cy="276.6" r="5.3"/><circle cx="569.9" cy="277.1" r="5.4"/><circle cx="575.9" cy="277.2" r="5.7"/><circle cx="580.7" cy="277.4" r="5.6"/><circle cx="588.6" cy="277.6" r="5.7"/><circle cx="593.7" cy="277.7" r="5.7"/><circle cx="602.8" cy="277.9" r="5.6"/><circle cx="607.8" cy="278.0" r="5.3"/><circle cx="614.2" cy="278.1" r="5.4"/><circle cx="621.6" cy="278.0" r="5.6"/><circle cx="627.6" cy="278.0" r="5.3"/><circle cx="634.5" cy="277.9" r="5.6"/><circle cx="639.3" cy="277.9" r="5.7"/><circle cx="647.6" cy="277.8" r="5.3"/><circle cx="655.2" cy="277.7" r="5.3"/><circle cx="659.6" cy="277.7" r="5.6"/><circle cx="654.5" cy="276.9" r="5.5"/><circle cx="647.7" cy="277.0" r="5.5"/><circle cx="642.4" cy="277.1" r="5.3"/><circle cx="636.7" cy="277.2" r="5.6"/><circle cx="627.7" cy="277.4" r="5.5"/><circle cx="621.2" cy="277.5" r="5.4"/><circle cx="616.3" cy="277.6" r="5.4"/><circle cx="607.6" cy="277.6" r="5.2"/><circle cx="602.3" cy="277.4" r="5.3"/><circle cx="594.8" cy="277.2" r="5.4"/><circle cx="589.8" cy="277.0" r="5.4"/><circle cx="582.5" cy="276.7" r="5.7"/><circle cx="576.7" cy="276.5" r="5.7"/><circle cx="571.0" cy="276.3" r="5.4"/><circle cx="564.5" cy="275.6" r="5.3"/><circle cx="555.6" cy="274.4" r="5.6"/><circle cx="551.2" cy="273.8" r="5.3"/><circle cx="543.9" cy="272.8" r="5.6"/><circle cx="535.9" cy="272.0" r="5.6"/><circle cx="530.2" cy="271.4" r="5.3"/><circle cx="524.5" cy="270.1" r="5.3"/><circle cx="517.7" cy="268.2" r="5.5"/><circle cx="512.5" cy="266.9" r="5.4"/><circle cx="504.0" cy="265.2" r="5.2"/><circle cx="497.6" cy="263.5" r="5.7"/><circle cx="491.3" cy="260.2" r="5.4"/><circle cx="487.1" cy="257.4" r="5.5"/><circle cx="482.9" cy="254.9" r="5.8"/><circle cx="476.6" cy="252.8" r="5.4"/><circle cx="471.4" cy="248.0" r="5.5"/><circle cx="468.3" cy="243.3" r="5.6"/><circle cx="466.0" cy="239.6" r="5.7"/><circle cx="461.4" cy="231.9" r="5.5"/><circle cx="458.4" cy="226.6" r="5.5"/><circle cx="456.4" cy="221.7" r="5.5"/><circle cx="454.7" cy="215.9" r="5.5"/><circle cx="452.6" cy="207.4" r="5.5"/><circle cx="452.5" cy="201.2" r="5.8"/><circle cx="454.9" cy="194.0" r="5.3"/><circle cx="452.7" cy="191.2" r="5.6"/><circle cx="449.7" cy="188.7" r="5.4"/><circle cx="447.2" cy="182.0" r="5.2"/><circle cx="445.1" cy="174.7" r="5.8"/><circle cx="443.4" cy="169.1" r="5.7"/><circle cx="441.2" cy="161.6" r="5.3"/><circle cx="438.6" cy="154.9" r="5.6"/><circle cx="436.1" cy="148.6" r="5.6"/><circle cx="435.1" cy="123.0" r="5.4"/><circle cx="434.3" cy="144.5" r="5.2"/><circle cx="455.9" cy="192.2" r="5.3"/><circle cx="485.5" cy="254.5" r="5.5"/><circle cx="660" cy="277.2" r="5.4"/><circle cx="435.3" cy="122.5" r="5.4"/><circle cx="456" cy="238" r="4.5"/><circle cx="462" cy="247" r="4"/></g>
<rect x="419.3" y="37" width="114.1" height="63.5" fill="#fff" stroke="#4a4a4a" stroke-width="1.1"/>
<circle cx="441.3" cy="51.0" r="5.5" fill="#ff2412"/>
<text x="465.5" y="56.2" font-family="Liberation Sans" font-size="14.2" fill="#111">13.0 GPa</text>
<circle cx="441.3" cy="68.7" r="5.5" fill="#8a1111"/>
<text x="465.5" y="73.9" font-family="Liberation Sans" font-size="14.2" fill="#111">23.0 GPa</text>
<circle cx="441.3" cy="86.0" r="5.5" fill="#0a00ff"/>
<text x="465.5" y="91.2" font-family="Liberation Sans" font-size="14.2" fill="#111">38.0 GPa</text>
</svg></body></html>
